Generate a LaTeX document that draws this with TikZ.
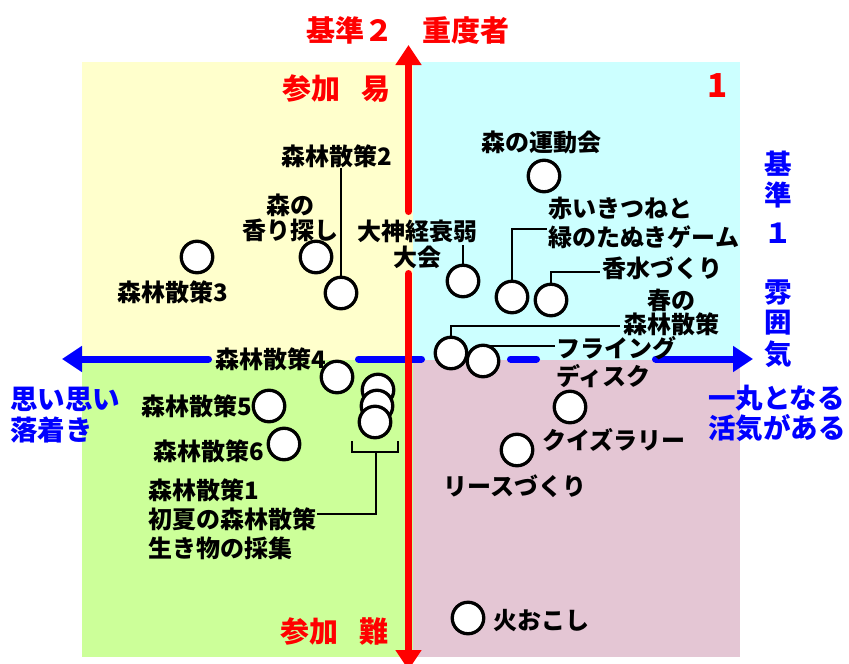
\documentclass[tikz,border=0pt]{standalone}
\usepackage{fontspec}
\setmainfont{Noto Sans CJK JP}
\usetikzlibrary{arrows.meta}
\definecolor{qyellow}{RGB}{255,255,204}
\definecolor{qcyan}{RGB}{204,255,255}
\definecolor{qgreen}{RGB}{204,255,153}
\definecolor{qpink}{RGB}{228,198,212}
\definecolor{qred}{RGB}{255,0,0}
\definecolor{qblue}{RGB}{0,0,255}
\tikzset{
  dot/.style={circle,draw=black,fill=white,line width=3.3pt,minimum size=31.5pt,inner sep=0pt},
  lbl/.style={font=\fontsize{24}{#1}\selectfont\bfseries,inner sep=0pt,text=black},
  lbl/.default=25,
  conn/.style={draw=black,line width=2.4pt},
  redtxt/.style={font=\fontsize{29}{30}\selectfont\bfseries,text=qred,inner sep=0pt},
  bluetxt/.style={font=\fontsize{27.5}{#1}\selectfont\bfseries,text=qblue,inner sep=0pt},
  bluetxt/.default=30,
  redaxis/.style={draw=qred,line width=7pt,line cap=round},
  blueaxis/.style={draw=qblue,line width=7pt,line cap=round},
  bigtip/.style={-{Triangle[length=20pt,width=25pt]}},
}
\begin{document}
\begin{tikzpicture}[x=1pt,y=-1pt]
\useasboundingbox (0,0) rectangle (849,664);
% quadrants
\fill[qyellow] (82,62) rectangle (412.5,360);
\fill[qcyan] (412.5,62) rectangle (740,360);
\fill[qgreen] (82,360) rectangle (412.5,657);
\fill[qpink] (412.5,360) rectangle (740,657);

% blue axis
\coordinate (bL1) at (208.5,359);
\coordinate (bLtip) at (62,359);
\coordinate (bM1) at (358.5,359);
\coordinate (bM2) at (421.5,359);
\coordinate (bD1) at (510.5,359);
\coordinate (bD2) at (536.5,359);
\coordinate (bR1) at (655.5,359);
\coordinate (bRtip) at (753,359);
\draw[blueaxis,bigtip] (bL1) -- (bLtip);
\draw[blueaxis] (bM1) -- (bM2);
\draw[blueaxis] (bD1) -- (bD2);
\draw[blueaxis,bigtip] (bR1) -- (bRtip);

% red axis
\coordinate (rT1) at (408.5,211.5);
\coordinate (rTtip) at (408.5,45);
\coordinate (rB1) at (408.5,273.5);
\coordinate (rBtip) at (408.5,670);
\draw[redaxis,bigtip] (rT1) -- (rTtip);
\draw[redaxis,bigtip] (rB1) -- (rBtip);

% red texts
\node[redtxt] (title2) at (408,30) {基準２　重度者};
\node[redtxt,anchor=east] (easy) at (391,89) {参加\hspace{0.72em}易};
\node[redtxt,anchor=east] (hard) at (389,632) {参加\hspace{0.72em}難};
\node[font=\fontsize{33}{33}\selectfont\bfseries,text=qred,inner sep=0pt] (one) at (718,86) {1};

% blue texts
\node[bluetxt,align=center,anchor=north] (crit1) at (778,151)
  {基\\[1pt]準\\[8pt]１\\[29pt]雰\\囲\\[2pt]気};
\node[bluetxt,align=left,anchor=west] (united) at (708,413) {一丸となる\\活気がある};
\node[bluetxt=31,align=left,anchor=west] (calm) at (10,415.5) {思い思い\\落着き};

% labels
\node[lbl] (t2) at (337,156) {森林散策2};
\node[lbl,align=center] (tk) at (290,217.5) {森の\\香り探し};
\node[lbl] (t3) at (173,292) {森林散策3};
\node[lbl] (tu) at (541,142) {森の運動会};
\node[lbl=26,align=center] (ts) at (417,244) {大神経衰弱\\大会};
\node[lbl=29,align=left,anchor=west] (ta) at (548,223) {赤いきつねと\\緑のたぬきゲーム};
\node[lbl,anchor=west] (th) at (602,268) {香水づくり};
\node[lbl=22,align=center] (tp) at (671,312) {春の\\森林散策};
\node[lbl=28,align=left,anchor=west] (tf) at (556,362) {フライング\\ディスク};
\node[lbl] (tq) at (614,440) {クイズラリー};
\node[lbl] (tr) at (515,486) {リースづくり};
\node[lbl,anchor=west] (tb) at (493,621) {火おこし};
\node[lbl] (t4) at (271,359) {森林散策4};
\node[lbl] (t5) at (197,406) {森林散策5};
\node[lbl] (t6) at (209,451) {森林散策6};
\node[lbl=29,align=left,anchor=west] (t1) at (148,519) {森林散策1\\初夏の森林散策\\生き物の採集};

% circle positions
\coordinate (p3) at (197,257);
\coordinate (pk) at (316,257);
\coordinate (p2) at (341,293);
\coordinate (pu) at (544,176);
\coordinate (ps) at (463,281);
\coordinate (pa) at (512,297);
\coordinate (ph) at (551,300);
\coordinate (pp) at (451,353);
\coordinate (pf) at (483,361);
\coordinate (pq) at (570,407);
\coordinate (pr) at (517,450);
\coordinate (pb) at (468,618);
\coordinate (p4) at (337,377);
\coordinate (p5) at (269,406);
\coordinate (p6) at (284,444);

% connector end points
\coordinate (tsend) at (463,245);
\coordinate (taend) at (547,229);
\coordinate (thend) at (600,272);
\coordinate (tpend) at (620,326);
\coordinate (tfend) at (555,346);
\coordinate (t1end) at (317,514);
\coordinate (brL) at (352,441);
\coordinate (brR) at (398,441);
\coordinate (brM) at (376,452);

% connectors (drawn under circles)
\draw[conn] (p2) -- (p2 |- t2.south);
\draw[conn] (ps) -- (tsend);
\draw[conn] (pa) |- (taend);
\draw[conn] (ph) |- (thend);
\draw[conn] (pp) |- (tpend);
\draw[conn] (pf) |- (tfend);
\draw[conn] (brL) -- (brL |- brM) -- (brR |- brM) -- (brR);
\draw[conn] (brM) |- (t1end);

% circles
\node[dot] (c3) at (p3) {};
\node[dot] (ck) at (pk) {};
\node[dot] (c2) at (p2) {};
\node[dot] (cu) at (pu) {};
\node[dot] (cs) at (ps) {};
\node[dot] (ca) at (pa) {};
\node[dot] (ch) at (ph) {};
\node[dot] (cp) at (pp) {};
\node[dot] (cf) at (pf) {};
\node[dot] (cq) at (pq) {};
\node[dot] (cr) at (pr) {};
\node[dot] (cb) at (pb) {};
\node[dot] (c4) at (p4) {};
\node[dot] (c5) at (p5) {};
\node[dot] (c6) at (p6) {};
\node[dot] (s1) at (378,390) {};
\node[dot] (s2) at (377,406) {};
\node[dot] (s3) at (375,422) {};
\end{tikzpicture}
\end{document}
